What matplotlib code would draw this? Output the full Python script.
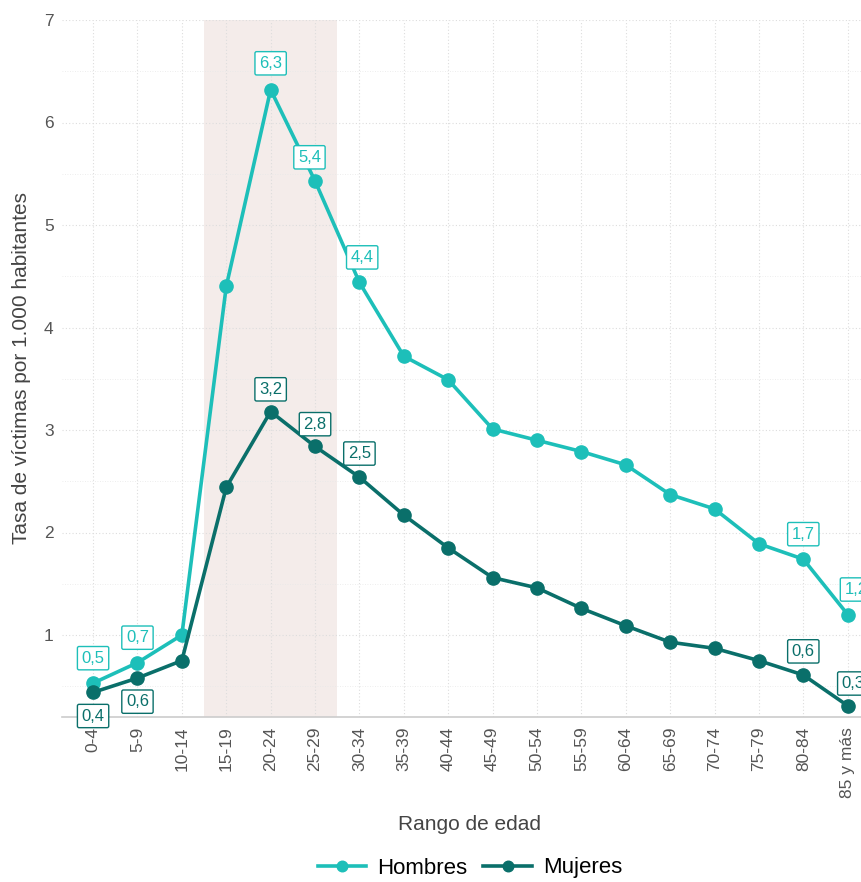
import matplotlib
matplotlib.use("Agg")
import matplotlib.pyplot as plt
from matplotlib.ticker import MultipleLocator

plt.rcParams['font.family'] = ['Liberation Sans', 'DejaVu Sans']

categories = ["0-4", "5-9", "10-14", "15-19", "20-24", "25-29", "30-34", "35-39",
              "40-44", "45-49", "50-54", "55-59", "60-64", "65-69", "70-74",
              "75-79", "80-84", "85 y más"]
hombres = [0.53, 0.73, 1.00, 4.40, 6.32, 5.43, 4.44, 3.72, 3.49, 3.01, 2.90,
           2.79, 2.66, 2.37, 2.23, 1.89, 1.74, 1.20]
mujeres = [0.44, 0.58, 0.75, 2.44, 3.18, 2.84, 2.54, 2.17, 1.85, 1.56, 1.46,
           1.26, 1.09, 0.93, 0.87, 0.75, 0.61, 0.31]
labelled = ["0-4", "5-9", "20-24", "25-29", "30-34", "80-84", "85 y más"]
shade_from, shade_to = "15-19", "25-29"

c_h = "#1dbfb9"
c_m = "#0a6f6a"

# label offsets (points) per series, for labelled categories
off_h = {"0-4": (0, 18), "5-9": (0, 18), "20-24": (0, 19), "25-29": (-4, 17),
         "30-34": (2, 18), "80-84": (0, 18), "85 y más": (6, 18)}
off_m = {"0-4": (0, -17), "5-9": (0, -17), "20-24": (0, 16), "25-29": (0, 16),
         "30-34": (0, 17), "80-84": (0, 17), "85 y más": (4, 16)}

fig = plt.figure(figsize=(8.61, 8.82), dpi=100)
W, H = 861, 882
left_px, right_px, top_px, bot_px = 62, 861, 20, 717
ax = fig.add_axes([left_px / W, (H - bot_px) / H, (right_px - left_px) / W, (bot_px - top_px) / H])

x = list(range(len(categories)))
ax.set_xlim(-0.7, 17.3)
ax.set_ylim(0.2, 7.0)

i0 = categories.index(shade_from) - 0.5
i1 = categories.index(shade_to) + 0.5
ax.axvspan(i0, i1, color="#f4ecea", zorder=0, lw=0)

ax.plot(x, hombres, color=c_h, lw=2.6, marker="o", ms=9.5, label="Hombres", zorder=3)
ax.plot(x, mujeres, color=c_m, lw=2.6, marker="o", ms=9.5, label="Mujeres", zorder=3)

def fmt(v):
    return f"{v:.1f}".replace(".", ",")

for series, col, offs in [(hombres, c_h, off_h), (mujeres, c_m, off_m)]:
    for cat in labelled:
        i = categories.index(cat)
        dx, dy = offs[cat]
        ax.annotate(fmt(series[i]), (i, series[i]), xytext=(dx, dy), textcoords="offset points",
                    ha="center", va="center", fontsize=12, color=col, zorder=5,
                    bbox=dict(boxstyle="round,pad=0.25,rounding_size=0.1", fc="white", ec=col, lw=1))

ax.set_xticks(x)
ax.set_xticklabels(categories, rotation=90, fontsize=12.5, color="#555555")
ax.set_yticks([1, 2, 3, 4, 5, 6, 7])
ax.set_yticklabels(["1", "2", "3", "4", "5", "6", "7"], fontsize=12.5, color="#555555")
ax.yaxis.set_minor_locator(MultipleLocator(0.5))
ax.tick_params(axis="x", which="both", length=0, pad=7)
ax.tick_params(axis="y", which="both", length=0, pad=6)
ax.grid(True, which="major", axis="both", color="#dddddd", ls=(0, (1, 2)), lw=0.8)
ax.grid(True, which="minor", axis="y", color="#e8e8e8", ls=(0, (1, 2)), lw=0.6)
ax.set_axisbelow(True)
for s in ["top", "right", "left"]:
    ax.spines[s].set_visible(False)
ax.spines["bottom"].set_color("#cccccc")
ax.spines["bottom"].set_linewidth(1.2)

fig.text(22 / W, 1 - 368 / H, "Tasa de víctimas por 1.000 habitantes", fontsize=15, color="#444444",
         ha="center", va="center", rotation=90)
fig.text(470 / W, 1 - 825 / H, "Rango de edad", fontsize=15, color="#444444", ha="center", va="center")

leg = fig.legend(handles=ax.get_lines(), labels=["Hombres", "Mujeres"], loc="center",
                 bbox_to_anchor=(470 / W, 1 - 868 / H), ncol=2, frameon=False, fontsize=16,
                 handlelength=2.2, columnspacing=0.7, handletextpad=0.5, markerscale=0.8)

fig.savefig("out.png", dpi=100)
